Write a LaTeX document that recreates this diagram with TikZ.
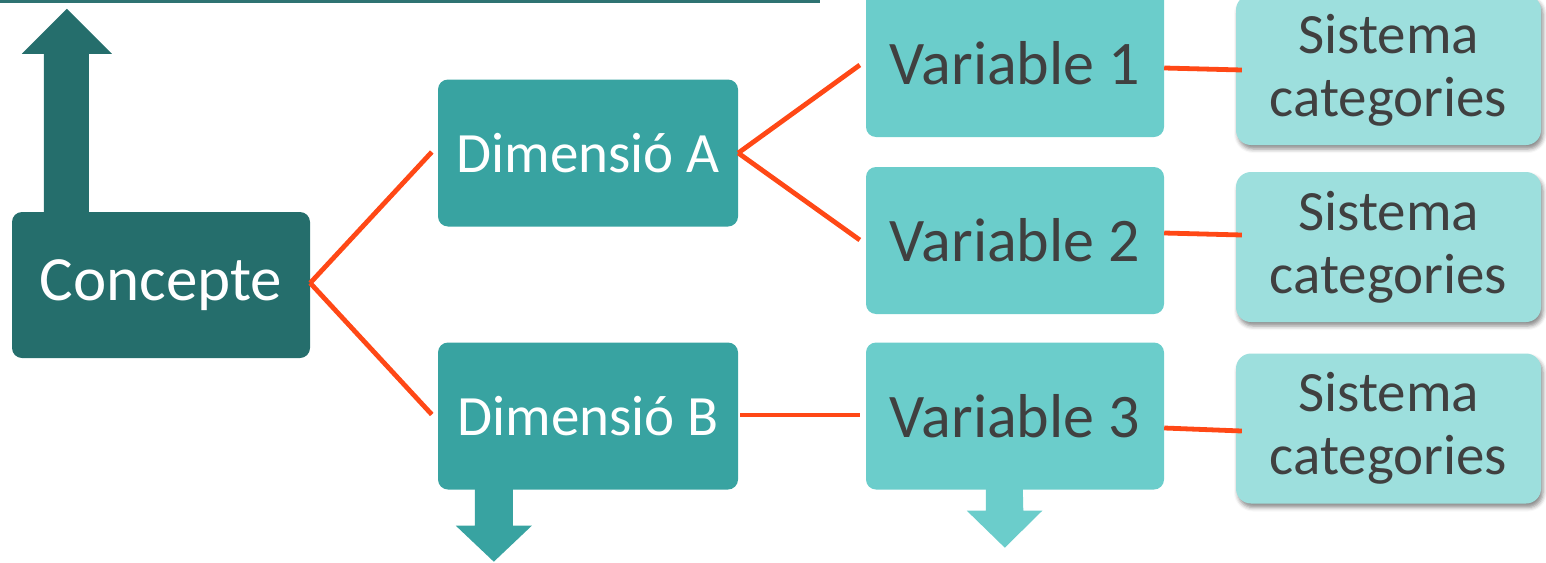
\documentclass[tikz,border=0pt]{standalone}
\usepackage{fontspec}
\setmainfont{Carlito}
\usetikzlibrary{calc,shadows.blur}
\definecolor{cdark}{RGB}{37,110,108}
\definecolor{cmid}{RGB}{56,163,161}
\definecolor{clight}{RGB}{107,205,203}
\definecolor{cpale}{RGB}{157,223,221}
\definecolor{ctext}{RGB}{64,64,64}
\definecolor{corange}{RGB}{255,72,22}
\definecolor{cline}{RGB}{46,115,114}
\begin{document}
\begin{tikzpicture}[x=1pt,y=-1pt,
  boxbase/.style={rectangle,rounded corners=10pt,inner sep=0pt,align=center},
  conceptbox/.style={boxbase,fill=cdark,text=white,minimum width=298pt,minimum height=146pt,font=\fontsize{63}{70}\selectfont},
  dimbox/.style={boxbase,fill=cmid,text=white,minimum width=300pt,minimum height=147pt,font=\fontsize{57}{63}\selectfont},
  varbox/.style={boxbase,fill=clight,text=ctext,minimum width=298pt,minimum height=147pt,font=\fontsize{62}{68}\selectfont},
  catbox/.style={boxbase,rounded corners=15pt,fill=cpale,text=ctext,minimum width=305pt,minimum height=150pt,font=\fontsize{57}{63}\selectfont,
     blur shadow={shadow xshift=2pt,shadow yshift=-4pt,shadow blur radius=4pt,shadow opacity=45}},
  conn/.style={draw=corange,line width=4.8pt}
]
\useasboundingbox (0,0) rectangle (1546,562);
% top line
\coordinate (tl0) at (0,1.2);
\coordinate (tl1) at (820,1.2);
\draw[cline,line width=2.6pt] (tl0) -- (tl1);

% boxes
\node[conceptbox] (c) at (161,285) {Concepte};
\node[dimbox] (da) at (588,153) {Dimensió A};
\node[dimbox] (db) at (588,416) {Dimensió B};
\node[varbox] (v1) at (1015,63.5) {Variable 1};
\node[varbox] (v2) at (1015,240.5) {Variable 2};
\node[varbox] (v3) at (1015,416) {Variable 3};
\node[catbox] (s1) at (1388.5,70) {Sistema\\categories};
\node[catbox] (s2) at (1388.5,247) {Sistema\\categories};
\node[catbox] (s3) at (1388.5,428.5) {Sistema\\categories};

% up arrow from Concepte
\fill[cdark] ($(c.north west)+(32,0.5)$) -- ++(0,-158.5) -- ++(-22,0) -- ++(45,-45) -- ++(45,45) -- ++(-23,0) -- ($(c.north west)+(77,0.5)$) -- cycle;
% down arrow from Dimensio B
\fill[cmid] ($(db.south west)+(37,-0.5)$) -- ++(0,36.5) -- ++(-19,0) -- ++(38,36) -- ++(38,-36) -- ++(-19,0) -- ($(db.south west)+(75,-0.5)$) -- cycle;
% down arrow from Variable 3
\fill[clight] ($(v3.south west)+(120,-0.5)$) -- ++(0,21.5) -- ++(-19,0) -- ++(38,37) -- ++(37.5,-37) -- ++(-19,0) -- ($(v3.south west)+(157,-0.5)$) -- cycle;

% connectors
\draw[conn] ([yshift=2pt]c.east) -- ([xshift=-6pt,yshift=1pt]da.west);
\draw[conn] ([yshift=2pt]c.east) -- ([xshift=-6pt,yshift=1.5pt]db.west);
\draw[conn] (da.east) -- ([xshift=-6pt,yshift=-1.5pt]v1.west);
\draw[conn] (da.east) -- ([xshift=-6pt,yshift=0.5pt]v2.west);
\draw[conn] ([xshift=2pt,yshift=1pt]db.east) -- ([xshift=-6pt,yshift=1pt]v3.west);
\draw[conn] ([yshift=-4.5pt]v1.east) -- ([xshift=6pt]s1.west);
\draw[conn] ([yshift=7.5pt]v2.east) -- ([xshift=6pt,yshift=12pt]s2.west);
\draw[conn] ([yshift=-12pt]v3.east) -- ([xshift=6pt,yshift=-2.5pt]s3.west);
\end{tikzpicture}
\end{document}
